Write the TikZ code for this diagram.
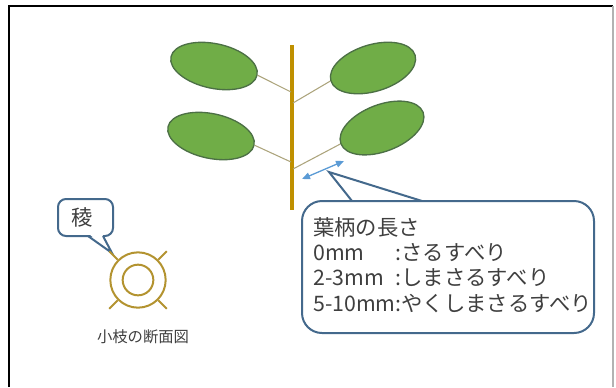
\documentclass[tikz,border=0pt]{standalone}
\usepackage{fontspec}
\setmainfont{Noto Sans CJK JP}
\usetikzlibrary{shapes.geometric,arrows.meta}
\definecolor{leafgreen}{HTML}{70AD47}
\definecolor{leafline}{HTML}{4C7045}
\definecolor{stemgold}{HTML}{BF9000}
\definecolor{petiolecol}{HTML}{ACA47C}
\definecolor{ridgecol}{HTML}{B39330}
\definecolor{notecol}{HTML}{44698C}
\definecolor{arrowblue}{HTML}{5B9BD5}
\definecolor{textgray}{HTML}{3F3F3F}
\begin{document}
\begin{tikzpicture}[x=0.75pt,y=-0.75pt,
  leaf/.style={ellipse,draw=leafline,fill=leafgreen,line width=1pt,
    minimum width=66pt,minimum height=33.5pt,inner sep=0pt},
  petiole/.style={draw=petiolecol,line width=0.8pt},
  ridge/.style={draw=ridgecol,line width=1.5pt},
  callout/.style={draw=notecol,line width=1.5pt,fill=white},
  notetext/.style={inner sep=0pt,text=textgray,font=\fontsize{16}{19}\selectfont},
  lenarrow/.style={draw=arrowblue,line width=1pt,
    {Triangle[length=6pt,width=5pt]}-{Triangle[length=6pt,width=5pt]}}]
\useasboundingbox (0,0) rectangle (616,387);
\draw[black,line width=1.2pt] (9,387) -- (9,6) -- (613,6);
\draw[gray!60,line width=1pt] (613,6) -- (613,387);
\draw[stemgold,line width=3pt] (292,45) -- (292,210);
\coordinate (stemTL) at (291,92);
\coordinate (stemBL) at (291,162);
\coordinate (stemTR) at (293,103);
\coordinate (stemBR) at (293,169);
\node[leaf,rotate=-12] (leafTL) at (214,66) {};
\node[leaf,rotate=-12] (leafBL) at (211,136) {};
\node[leaf,rotate=17,minimum height=35pt] (leafTR) at (373,68) {};
\node[leaf,rotate=21,minimum height=35pt] (leafBR) at (382,128) {};
\draw[petiole] (leafTL.east) -- (stemTL);
\draw[petiole] (leafBL.east) -- (stemBL);
\draw[petiole] (leafTR.west) -- (stemTR);
\draw[petiole] (leafBR.west) -- (stemBR);
\coordinate (lenA) at (302,179);
\coordinate (lenB) at (344,161);
\draw[lenarrow] (lenA) -- (lenB);
\draw[callout,rounded corners=15pt] (302,201) rectangle (594,333);
\fill[white] (353,199) -- (329,172) -- (421,199) -- cycle;
\draw[notecol,line width=1.5pt,line join=miter] (352,201) -- (329,172) -- (422,201);
\node[notetext,anchor=north west] (lentext) at (313,217) {%
  \begin{tabular}{@{}l@{}l@{}}
  \multicolumn{2}{@{}l@{}}{葉柄の長さ}\\
  0mm & :さるすべり\\
  2-3mm & :しまさるすべり\\
  5-10mm & :やくしまさるすべり
  \end{tabular}};
\draw[callout,rounded corners=6pt] (58,199) rectangle (113,236);
\fill[white] (89,234) -- (112,253) -- (102,234) -- cycle;
\draw[notecol,line width=1.5pt,line join=miter] (88,236) -- (112,253) -- (103,236);
\node[notetext] (ridgelabel) at (82,217) {稜};
\node[circle,ridge,minimum size=41.5pt,inner sep=0pt] (twigout) at (138,280) {};
\node[circle,ridge,minimum size=23pt,inner sep=0pt] (twigin) at (138,280) {};
\foreach \a in {45,135,225,315}
  \draw[ridge] (twigout.\a) -- ++(-\a:12);
\node[text=textgray,font=\fontsize{11.5}{14}\selectfont] (twiglabel) at (143,337) {小枝の断面図};
\end{tikzpicture}
\end{document}
